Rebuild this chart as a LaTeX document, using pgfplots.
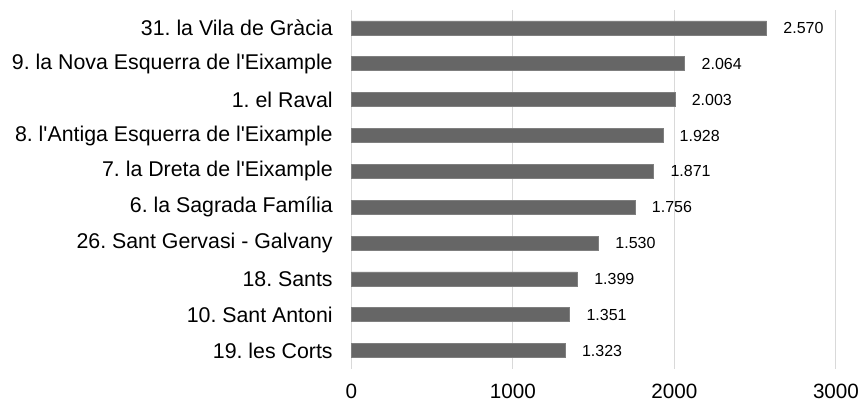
\documentclass[border=0pt]{standalone}
\usepackage{fontspec}
\setmainfont{Liberation Sans}
\usepackage{pgfplots}
\pgfplotsset{compat=1.18}
\definecolor{barfill}{HTML}{666666}
\definecolor{baredge}{HTML}{7F7F7F}
\definecolor{gridc}{HTML}{D9D9D9}
\newcommand{\q}{\textquotesingle}
\frenchspacing
\begin{document}
\begin{tikzpicture}
\useasboundingbox (0pt,0pt) rectangle (648.75pt,300.75pt);
\begin{axis}[
  at={(263.6pt,24.3pt)}, anchor=south west,
  scale only axis, width=363.4pt, height=268.95pt,
  xmin=0, xmax=3000, ymin=-0.5, ymax=9.5, y dir=reverse,
  xbar, bar width=10.5pt,
  xtick={0,1000,2000,3000},
  ytick={0,...,9},
  yticklabels={31. la Vila de Gràcia, 9. la Nova Esquerra de l\q Eixample, 1. el Raval, 8. l\q Antiga Esquerra de l\q Eixample, 7. la Dreta de l\q Eixample, 6. la Sagrada Família, 26. Sant Gervasi - Galvany, 18. Sants, 10. Sant Antoni, 19. les Corts},
  xmajorgrids, grid style={gridc, line width=0.75pt},
  axis line style={draw=none}, major tick length=0pt,
  /pgf/number format/assume math mode=true,
  /pgf/number format/1000 sep={},
  xticklabel style={font=\fontsize{15.5}{18}\selectfont, inner sep=0pt, anchor=north, yshift=-11.5pt},
  yticklabel style={font=\fontsize{16}{19}\selectfont, inner sep=0pt, anchor=east, xshift=-13.9pt},
  nodes near coords, point meta=explicit symbolic,
  every node near coord/.append style={font=\fontsize{12}{14}\selectfont, anchor=west, inner sep=0pt, xshift=12.4pt, text=black},
  clip=false,
]
\addplot[fill=barfill, draw=baredge, line width=0.5pt] coordinates {
  (2570,0) [2.570]
  (2064,1) [2.064]
  (2003,2) [2.003]
  (1928,3) [1.928]
  (1871,4) [1.871]
  (1756,5) [1.756]
  (1530,6) [1.530]
  (1399,7) [1.399]
  (1351,8) [1.351]
  (1323,9) [1.323]
};
\end{axis}
\end{tikzpicture}
\end{document}
